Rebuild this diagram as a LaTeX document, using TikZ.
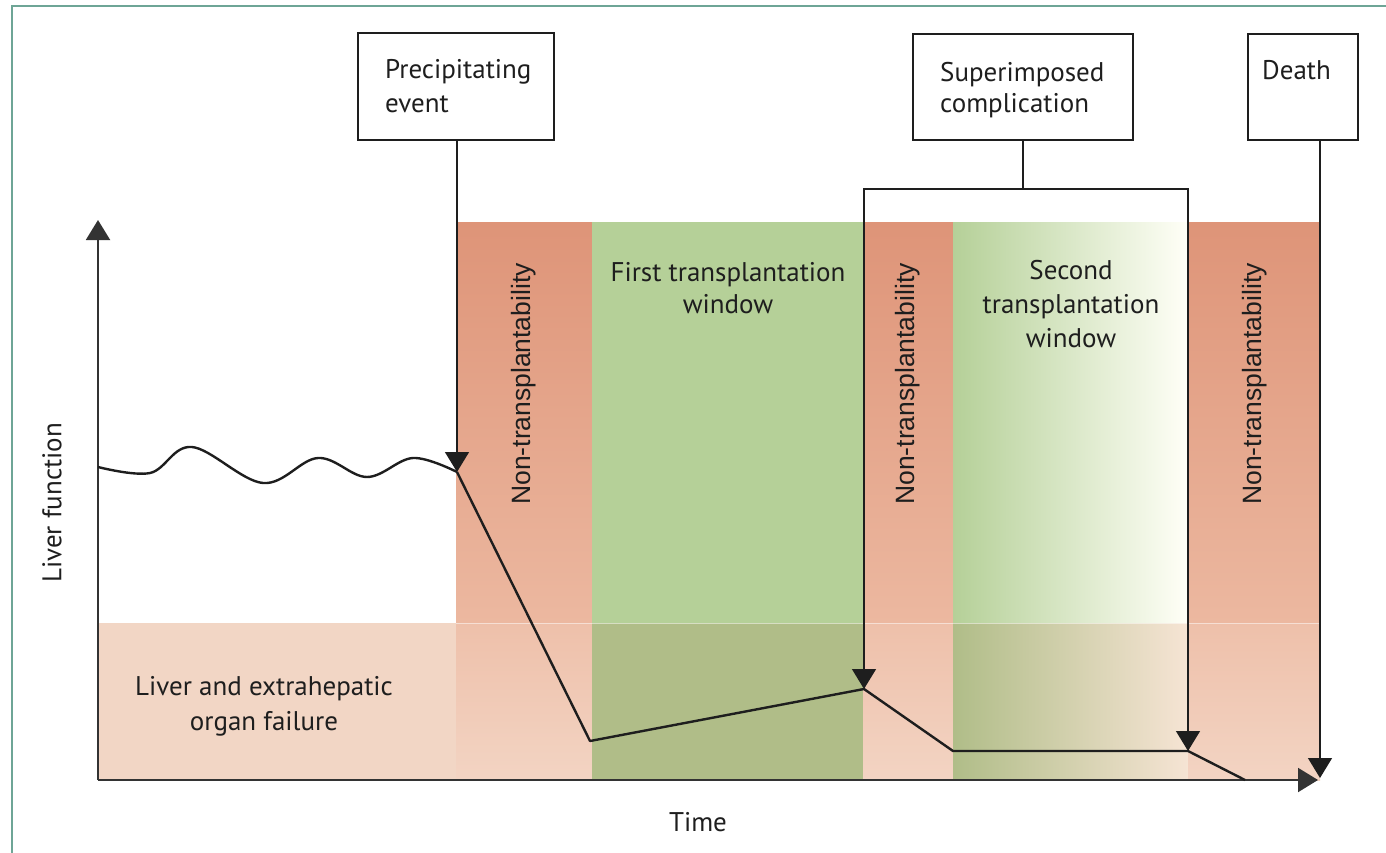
\documentclass[tikz,border=0pt]{standalone}
\usepackage{fontspec}
\setmainfont{PT Sans}
\newfontfamily\helv{Liberation Sans}
\usetikzlibrary{arrows.meta}
\definecolor{redtop}{RGB}{222,148,120}
\definecolor{redmid}{RGB}{236,184,160}
\definecolor{redlowtop}{RGB}{238,192,170}
\definecolor{redlowbot}{RGB}{243,212,195}
\definecolor{paleband}{RGB}{242,214,197}
\definecolor{greenA}{RGB}{181,208,152}
\definecolor{greenB}{RGB}{176,189,136}
\definecolor{greenBend}{RGB}{246,228,212}
\definecolor{frameclr}{RGB}{110,165,150}
\definecolor{ink}{RGB}{30,30,30}
\tikzset{
  boxnode/.style={draw=ink, line width=1.4pt, fill=white, inner sep=0pt},
  lbl/.style={font=\fontsize{27}{34}\selectfont, inner sep=0pt, text=ink},
  vlbl/.style={font=\helv\fontsize{26.5}{30}\selectfont, rotate=90, inner sep=0pt, text=ink},
  conn/.style={line width=1.4pt, draw=ink},
  tipped/.style={-{Triangle[width=24pt,length=20pt]}},
  curveline/.style={line width=2.4pt, draw=ink, line join=round},
  axisline/.style={line width=2pt, draw=black!80}
}
\begin{document}
\begin{tikzpicture}[x=1pt,y=-1pt]
\useasboundingbox (0,0) rectangle (1386,853);
% frame
\draw[frameclr, line width=2pt] (12,853) -- (12,6) -- (1386,6);
% bands upper
\shade[top color=redtop, bottom color=redmid] (456,222) rectangle (592,623);
\fill[greenA] (592,222) rectangle (863,623);
\shade[top color=redtop, bottom color=redmid] (863,222) rectangle (953,623);
\shade[left color=greenA, right color=white!97!yellow] (953,222) rectangle (1188,623);
\shade[top color=redtop, bottom color=redmid] (1188,222) rectangle (1320,623);
% lower band
\fill[paleband] (98,623) rectangle (456,780);
\shade[top color=redlowtop, bottom color=redlowbot] (456,623) rectangle (592,780);
\fill[greenB] (592,623) rectangle (863,780);
\shade[top color=redlowtop, bottom color=redlowbot] (863,623) rectangle (953,780);
\shade[left color=greenB, right color=greenBend] (953,623) rectangle (1188,780);
\shade[top color=redlowtop, bottom color=redlowbot] (1188,623) rectangle (1320,780);
\draw[white, opacity=0.5, line width=1pt] (456,623) -- (1320,623);
% axes
\coordinate (origin) at (98,780);
\coordinate (ytop) at (98,220);
\coordinate (xend) at (1318,780);
\draw[axisline, tipped] (origin) -- (ytop);
\draw[axisline, tipped] (origin) -- (xend);
% curve
\coordinate (p0) at (457,472);
\coordinate (p1) at (590,741);
\coordinate (p2) at (864,689);
\coordinate (p3) at (953,751);
\coordinate (p4) at (1188,751);
\coordinate (p5) at (1245,780);
\draw[curveline] plot[smooth, tension=0.6] coordinates {(98,467) (150,473) (192,447) (263,483) (318,458) (367,477) (413,458) (457,472)};
\draw[curveline] (p0) -- (p1) -- (p2) -- (p3) -- (p4) -- (p5);
% boxes
\node[boxnode, minimum width=196pt, minimum height=107pt] (prec) at (456,86.5) {};
\node[boxnode, minimum width=220pt, minimum height=106pt] (sup) at (1023,87) {};
\node[boxnode, minimum width=110pt, minimum height=106pt] (death) at (1303,87) {};
\node[lbl, anchor=base west] (prec1) at (385,79) {Precipitating};
\node[lbl, anchor=base west] (prec2) at (385,113) {event};
\node[lbl, anchor=base west] (sup1) at (940,82) {Superimposed};
\node[lbl, anchor=base west] (sup2) at (940,113) {complication};
\node[lbl, anchor=base west] (death1) at (1262,80) {Death};
% connectors
\coordinate (junction) at (1023,189);
\coordinate (dend) at (1320,778);
\draw[conn, tipped] (prec.south -| p0) -- (p0);
\draw[conn] (sup.south) -- (junction);
\draw[conn, tipped] (junction) -| (p2);
\draw[conn, tipped] (junction) -| (p4);
\draw[conn, tipped] (death.south -| dend) -- (dend);
% band labels
\node[vlbl] (nt1) at (524,384) {Non-transplantability};
\node[vlbl] (nt2) at (908,384) {Non-transplantability};
\node[vlbl] (nt3) at (1255,384) {Non-transplantability};
\node[lbl, anchor=base] (first1) at (728,281) {First transplantation};
\node[lbl, anchor=base] (first2) at (728,313) {window};
\node[lbl, anchor=base] (sec1) at (1071,279) {Second};
\node[lbl, anchor=base] (sec2) at (1071,313) {transplantation};
\node[lbl, anchor=base] (sec3) at (1071,347) {window};
\node[lbl, anchor=base] (fail1) at (264,695) {Liver and extrahepatic};
\node[lbl, anchor=base] (fail2) at (264,730) {organ failure};
\node[lbl, anchor=base] (time) at (698,831) {Time};
\node[lbl, rotate=90] (lf) at (52,503) {Liver function};
\end{tikzpicture}
\end{document}
